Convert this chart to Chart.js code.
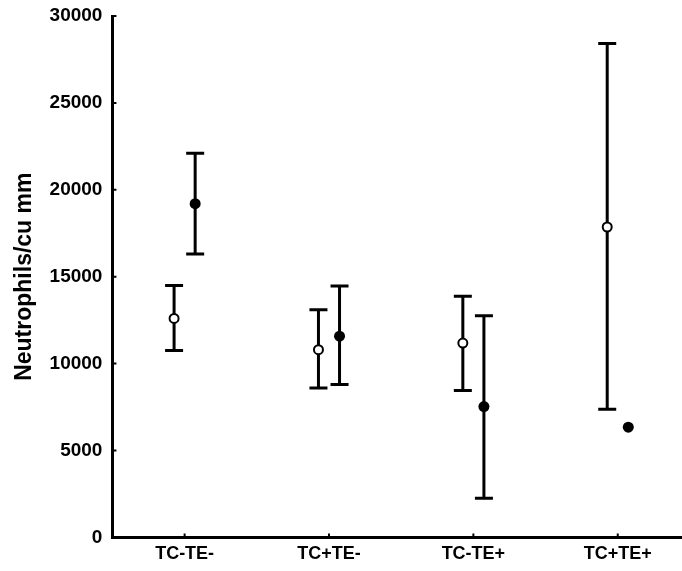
<!DOCTYPE html>
<html>
<head>
<meta charset="utf-8">
<script src="https://cdn.jsdelivr.net/npm/chart.js@4.4.1/dist/chart.umd.min.js"></script>
<style>
  html, body { margin: 0; padding: 0; background: #fff; overflow: hidden; }
</style>
</head>
<body>
<canvas id="myChart" width="682" height="571"></canvas>
<script>
    // groups on the x axis
    const groups = ['TC-TE-', 'TC+TE-', 'TC-TE+', 'TC+TE+'];

    // open circles
    const openMean = [12600, 10800, 11180, 17860];
    const openLow = [10750, 8600, 8450, 7370];
    const openHigh = [14500, 13100, 13870, 28420];

    // filled circles (last group has no spread)
    const fillMean = [19200, 11580, 7530, 6340];
    const fillLow = [16300, 8800, 2250, null];
    const fillHigh = [22100, 14460, 12750, null];

    const yTicks = [0, 5000, 10000, 15000, 20000, 25000, 30000];

    const dodge = 0.073;

    function pts(means, lows, highs, shift) {
        return means.map(function (m, i) {
            return { x: i + 1 + shift, y: m, lo: lows[i], hi: highs[i] };
        });
    }

    // whiskers with caps, drawn under the circles
    const errorBars = {
        id: 'errorBars',
        beforeDatasetsDraw(chart) {
            const ctx = chart.ctx;
            const xs = chart.scales.x;
            const ys = chart.scales.y;
            ctx.save();
            ctx.strokeStyle = '#000';
            ctx.lineWidth = 3;
            chart.data.datasets.forEach(function (ds) {
                ds.data.forEach(function (p) {
                    if (p.lo == null || p.hi == null) return;
                    const x = xs.getPixelForValue(p.x);
                    const y1 = ys.getPixelForValue(p.lo);
                    const y2 = ys.getPixelForValue(p.hi);
                    ctx.beginPath();
                    ctx.moveTo(x, y1);
                    ctx.lineTo(x, y2);
                    ctx.moveTo(x - 9, y1);
                    ctx.lineTo(x + 9, y1);
                    ctx.moveTo(x - 9, y2);
                    ctx.lineTo(x + 9, y2);
                    ctx.stroke();
                });
            });
            ctx.restore();
        }
    };

    // short tick marks pointing into the plot
    const innerTicks = {
        id: 'innerTicks',
        afterDraw(chart) {
            const ctx = chart.ctx;
            const xs = chart.scales.x;
            const ys = chart.scales.y;
            const area = chart.chartArea;
            ctx.save();
            ctx.strokeStyle = '#000';
            ctx.lineWidth = 2;
            ctx.beginPath();
            ys.ticks.forEach(function (t) {
                const y = ys.getPixelForValue(t.value);
                ctx.moveTo(area.left, y);
                ctx.lineTo(area.left + 4, y);
            });
            xs.ticks.forEach(function (t) {
                const x = xs.getPixelForValue(t.value);
                ctx.moveTo(x, area.bottom);
                ctx.lineTo(x, area.bottom - 4);
            });
            ctx.stroke();
            ctx.restore();
        }
    };

    Chart.defaults.font.family = "'Liberation Sans', Arial, sans-serif";
    Chart.defaults.font.weight = 'bold';
    Chart.defaults.color = '#000';

    new Chart('myChart', {
        type: 'scatter',
        data: {
            datasets: [{
                data: pts(openMean, openLow, openHigh, -dodge),
                pointRadius: 4.5,
                pointBorderWidth: 2,
                pointBackgroundColor: '#fff',
                pointBorderColor: '#000'
            }, {
                data: pts(fillMean, fillLow, fillHigh, dodge),
                pointRadius: 5.5,
                pointBorderWidth: 0,
                pointBackgroundColor: '#000',
                pointBorderColor: '#000'
            }]
        },
        options: {
            responsive: false,
            animation: false,
            layout: {
                autoPadding: false,
                padding: { left: 4, top: 16, right: 0, bottom: 0 }
            },
            plugins: {
                legend: { display: false },
                tooltip: { enabled: false }
            },
            scales: {
                x: {
                    type: 'linear',
                    min: 0.5,
                    max: 4.445,
                    afterBuildTicks: function (axis) {
                        axis.ticks = groups.map(function (g, i) { return { value: i + 1 }; });
                    },
                    afterFit: function (axis) {
                        axis.paddingLeft = 0;
                        axis.paddingRight = 0;
                    },
                    ticks: {
                        font: { size: 18 },
                        padding: 6,
                        callback: function (v) { return groups[v - 1]; }
                    },
                    grid: { drawOnChartArea: false, drawTicks: false },
                    border: { color: '#000', width: 3 }
                },
                y: {
                    min: 0,
                    max: 30000,
                    afterBuildTicks: function (axis) {
                        axis.ticks = yTicks.map(function (v) { return { value: v }; });
                    },
                    afterFit: function (axis) {
                        axis.paddingTop = 0;
                        axis.paddingBottom = 0;
                    },
                    ticks: {
                        font: { size: 19 },
                        padding: 10,
                        callback: function (v) { return String(v); }
                    },
                    grid: { drawOnChartArea: false, drawTicks: false },
                    border: { color: '#000', width: 3 },
                    title: {
                        display: true,
                        text: 'Neutrophils/cu mm',
                        font: { size: 23 },
                        padding: { top: 7, bottom: 1 }
                    }
                }
            }
        },
        plugins: [errorBars, innerTicks]
    });
</script>
</body>
</html>
